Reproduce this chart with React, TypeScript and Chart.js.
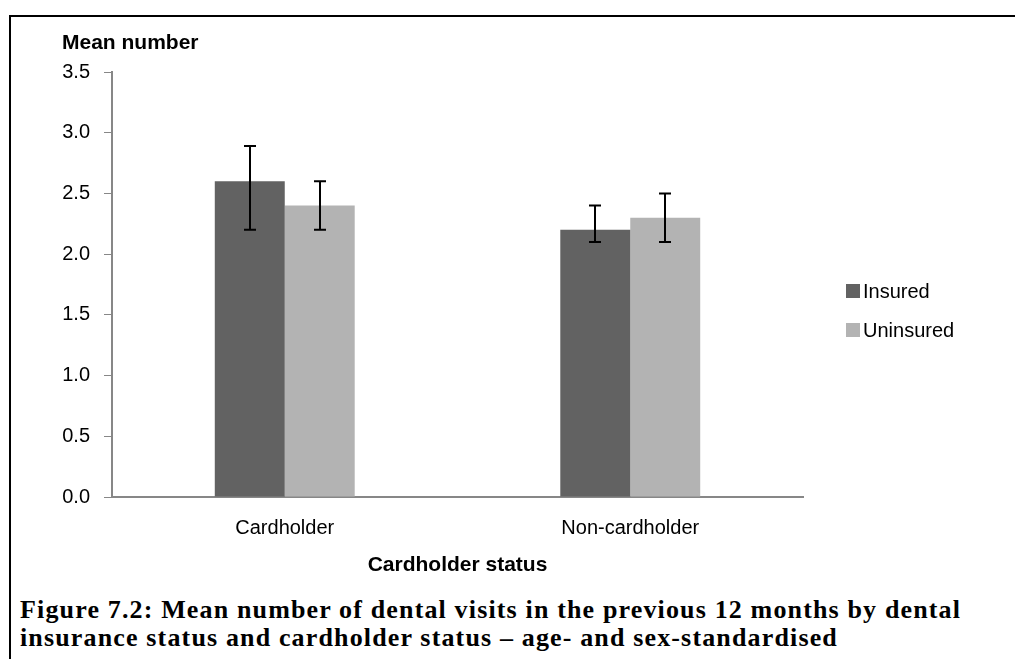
import React, { useEffect, useRef } from "react";
import { Chart, registerables } from "chart.js";

Chart.register(...registerables);

const categories = ["Cardholder", "Non-cardholder"];
const seriesLabels = ["Insured", "Uninsured"];
const insuredValues = [2.6, 2.2];
const insuredLow = [2.2, 2.1];
const insuredHigh = [2.89, 2.4];
const uninsuredValues = [2.4, 2.3];
const uninsuredLow = [2.2, 2.1];
const uninsuredHigh = [2.6, 2.5];
const yTicks = [0, 0.5, 1.0, 1.5, 2.0, 2.5, 3.0, 3.5];

const captionLines = [
  "Figure 7.2: Mean number of dental visits in the previous 12 months by dental",
  "insurance status and cardholder status \u2013 age- and sex-standardised",
];

const SANS = "'Liberation Sans', Arial, sans-serif";

const errorBarPlugin = {
  id: "errorBars",
  afterDatasetsDraw(chart: any) {
    const ctx = chart.ctx;
    const y = chart.scales.y;
    chart.data.datasets.forEach((ds: any, i: number) => {
      const meta = chart.getDatasetMeta(i);
      meta.data.forEach((bar: any, j: number) => {
        const lo = y.getPixelForValue(ds.errLow[j]);
        const hi = y.getPixelForValue(ds.errHigh[j]);
        const x = Math.round(bar.x);
        ctx.save();
        ctx.strokeStyle = "#000";
        ctx.lineWidth = 2;
        ctx.beginPath();
        ctx.moveTo(x, hi);
        ctx.lineTo(x, lo);
        ctx.moveTo(x - 6, hi);
        ctx.lineTo(x + 6, hi);
        ctx.moveTo(x - 6, lo);
        ctx.lineTo(x + 6, lo);
        ctx.stroke();
        ctx.restore();
      });
    });
  },
};

const legendPlugin = {
  id: "sideLegend",
  afterDraw(chart: any) {
    const ctx = chart.ctx;
    const area = chart.chartArea;
    const x0 = area.right + 43;
    const yCenters = [291, 330];
    ctx.save();
    chart.data.datasets.forEach((ds: any, i: number) => {
      const yc = yCenters[i];
      ctx.fillStyle = ds.backgroundColor;
      ctx.fillRect(x0, yc - 7, 14, 14);
      ctx.fillStyle = "#000";
      ctx.font = `20px ${SANS}`;
      ctx.textBaseline = "middle";
      ctx.textAlign = "left";
      ctx.fillText(ds.label, x0 + 17, yc + 1);
    });
    ctx.restore();
  },
};

export default function App() {
  const canvasRef = useRef<HTMLCanvasElement>(null);

  useEffect(() => {
    if (!canvasRef.current) return;
    const chart = new Chart(canvasRef.current, {
      type: "bar",
      data: {
        labels: categories,
        datasets: [
          {
            label: seriesLabels[0],
            data: insuredValues,
            backgroundColor: "#626262",
            errLow: insuredLow,
            errHigh: insuredHigh,
          } as any,
          {
            label: seriesLabels[1],
            data: uninsuredValues,
            backgroundColor: "#b3b3b3",
            errLow: uninsuredLow,
            errHigh: uninsuredHigh,
          } as any,
        ],
      },
      options: {
        responsive: false,
        animation: false,
        devicePixelRatio: 1,
        datasets: {
          bar: { categoryPercentage: 0.405, barPercentage: 1 },
        },
        layout: { padding: { left: 62, right: 212, top: 0, bottom: 0 } },
        plugins: {
          legend: { display: false },
          tooltip: { enabled: false },
          title: {
            display: true,
            text: "Mean number",
            align: "start",
            color: "#000",
            font: { family: SANS, size: 21, weight: "bold", lineHeight: 1.2 },
            padding: { top: 30.4, bottom: 16.4 },
          },
        },
        scales: {
          x: {
            grid: { display: false },
            border: { display: true, color: "#878787", width: 2 },
            ticks: {
              color: "#000",
              font: { family: SANS, size: 20 },
              padding: 11,
            },
            title: {
              display: true,
              text: "Cardholder status",
              color: "#000",
              font: { family: SANS, size: 21, weight: "bold", lineHeight: 1.2 },
              padding: { top: 0, bottom: 12.4 },
            },
            afterFit(scale: any) {
              scale.height = 93;
            },
          },
          y: {
            min: 0,
            max: 3.5,
            afterBuildTicks(scale: any) {
              scale.ticks = yTicks.map((v) => ({ value: v }));
            },
            ticks: {
              color: "#000",
              font: { family: SANS, size: 20 },
              padding: 14,
              callback: (v: any) => Number(v).toFixed(1),
            },
            grid: {
              drawOnChartArea: false,
              drawTicks: true,
              tickLength: 8,
              color: "#878787",
              lineWidth: 1,
            },
            border: { display: true, color: "#878787", width: 2 },
            afterFit(scale: any) {
              scale.width = 50;
            },
          },
        },
      } as any,
      plugins: [errorBarPlugin, legendPlugin],
    });
    return () => chart.destroy();
  }, []);

  return (
    <div
      style={{
        position: "fixed",
        left: 0,
        top: 0,
        width: 1015,
        height: 659,
        overflow: "hidden",
        background: "#fff",
      }}
    >
      <div
        style={{
          position: "absolute",
          left: 9,
          top: 15,
          width: 1100,
          height: 800,
          border: "2px solid #000",
          boxSizing: "border-box",
        }}
      />
      <canvas
        ref={canvasRef}
        width={1015}
        height={590}
        style={{ position: "absolute", left: 0, top: 0, width: 1015, height: 590 }}
      />
      <div
        style={{
          position: "absolute",
          left: 20,
          top: 596,
          fontFamily: "'Liberation Serif', 'Times New Roman', serif",
          fontWeight: "bold",
          fontSize: 26,
          letterSpacing: "1.15px",
          lineHeight: "28px",
          whiteSpace: "nowrap",
          color: "#000",
        }}
      >
        {captionLines.map((l, i) => (
          <div key={i}>{l}</div>
        ))}
      </div>
    </div>
  );
}
